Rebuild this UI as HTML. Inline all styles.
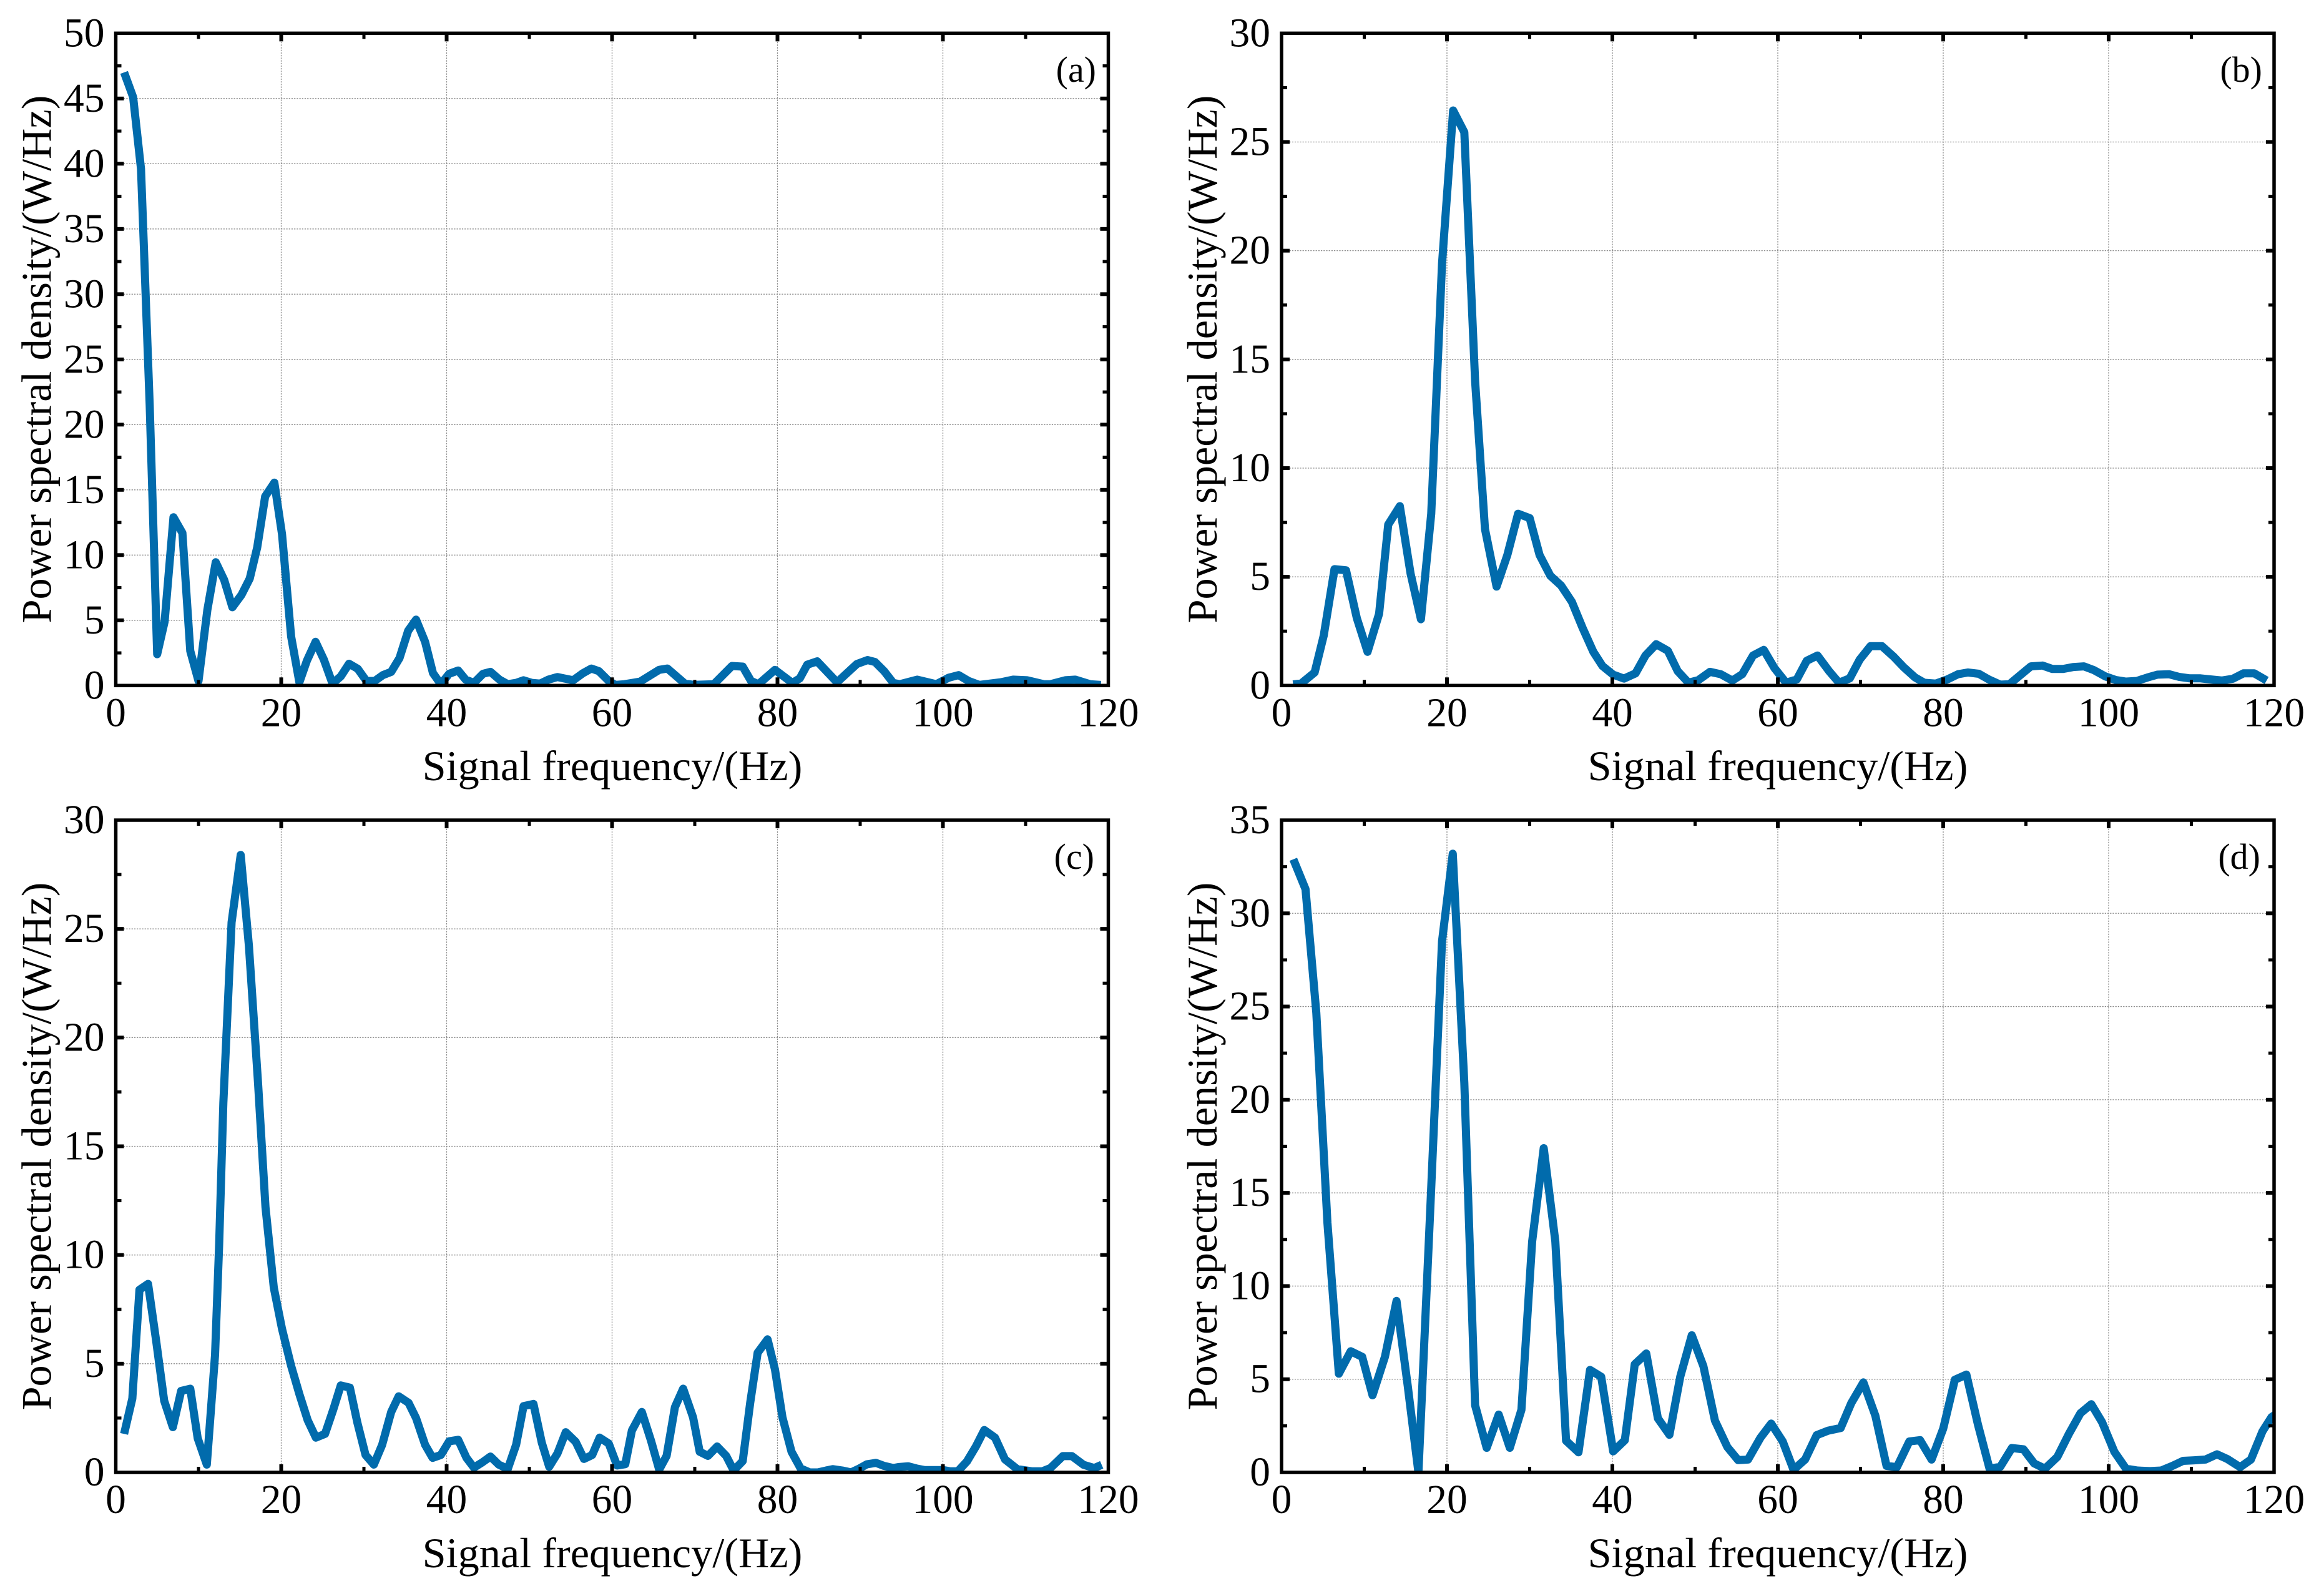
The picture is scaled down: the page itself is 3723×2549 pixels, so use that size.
<!DOCTYPE html>
<html lang="en">
<head>
<meta charset="utf-8">
<title>Power spectral density panels</title>
<style>
html,body{margin:0;padding:0;background:#fff;}
svg{display:block;}
text{font-family:"Liberation Serif",serif;fill:#000;}
.tick-label{font-size:65.5px;}
.axis-title{font-size:68.3px;}
.panel-tag{font-size:58px;}
</style>
</head>
<body>
<svg id="figure" xmlns="http://www.w3.org/2000/svg" width="3723" height="2549" viewBox="0 0 3723 2549">
  <rect x="0" y="0" width="3723" height="2549" fill="#fff"/>
  <g id="panel-a">
    <text class="axis-title" x="981" y="1250" text-anchor="middle">Signal frequency/(Hz)</text>
    <text class="axis-title" transform="translate(81.5 575.5) rotate(-90)" text-anchor="middle">Power spectral density/(W/Hz)</text>
    <text class="panel-tag" x="1756" y="131" text-anchor="end">(a)</text>
  </g>
  <g id="panel-b">
    <text class="axis-title" x="2848" y="1250" text-anchor="middle">Signal frequency/(Hz)</text>
    <text class="axis-title" transform="translate(1949 575.5) rotate(-90)" text-anchor="middle">Power spectral density/(W/Hz)</text>
    <text class="panel-tag" x="3624" y="131" text-anchor="end">(b)</text>
  </g>
  <g id="panel-c">
    <text class="axis-title" x="981" y="2511" text-anchor="middle">Signal frequency/(Hz)</text>
    <text class="axis-title" transform="translate(81.5 1836.5) rotate(-90)" text-anchor="middle">Power spectral density/(W/Hz)</text>
    <text class="panel-tag" x="1753" y="1392" text-anchor="end">(c)</text>
  </g>
  <g id="panel-d">
    <text class="axis-title" x="2848" y="2511" text-anchor="middle">Signal frequency/(Hz)</text>
    <text class="axis-title" transform="translate(1949 1836.5) rotate(-90)" text-anchor="middle">Power spectral density/(W/Hz)</text>
    <text class="panel-tag" x="3621" y="1392" text-anchor="end">(d)</text>
  </g>
</svg>
<script>
var xTickValues = [0, 20, 40, 60, 80, 100, 120];
var xMinorValues = [10, 30, 50, 70, 90, 110];
var yTicksA = [0, 5, 10, 15, 20, 25, 30, 35, 40, 45, 50];
var yTicksB = [0, 5, 10, 15, 20, 25, 30];
var yTicksC = [0, 5, 10, 15, 20, 25, 30];
var yTicksD = [0, 5, 10, 15, 20, 25, 30, 35];

var freqA = [1, 2.1, 3.05, 4.1, 5, 5.9, 6.97, 8.05, 9, 10, 11.07, 12.08, 13.1, 14.1, 15.2, 16.2, 17.1, 18.06, 19.17, 20.1, 21.2, 22.2, 23.1, 24.15, 25.15, 26.2, 27.2, 28.2, 29.25, 30.3, 31.3, 32.3, 33.3, 34.3, 35.35, 36.3, 37.4, 38.35, 39.3, 40.3, 41.4, 42.3, 43.3, 44.4, 45.3, 46.4, 47.4, 48.4, 49.3, 50.3, 51.3, 52.3, 53.4, 55.3, 56.5, 57.5, 58.4, 59.6, 60.4, 61.5, 63.4, 65.7, 66.7, 68.8, 69.9, 72.3, 74.5, 75.8, 76.8, 77.7, 79.7, 81.8, 82.7, 83.6, 84.8, 87.2, 89.6, 90.9, 91.8, 92.9, 94, 94.8, 96.9, 99.2, 100.7, 101.9, 103.1, 104.4, 107, 108.5, 110.2, 112.2, 113, 114.8, 116, 117.8, 119.1];
var powerA = [47, 45.1, 39.6, 21.5, 2.4, 4.9, 12.9, 11.7, 2.65, 0.35, 5.8, 9.45, 8.1, 6, 6.95, 8.2, 10.6, 14.5, 15.55, 11.6, 3.75, 0.25, 1.9, 3.35, 2, 0.15, 0.7, 1.67, 1.28, 0.35, 0.35, 0.8, 1.05, 2.1, 4.2, 5.05, 3.35, 0.95, 0.1, 0.9, 1.15, 0.45, 0.2, 0.9, 1.05, 0.45, 0.1, 0.2, 0.4, 0.2, 0.15, 0.45, 0.65, 0.4, 0.95, 1.3, 1.1, 0.35, 0.05, 0.1, 0.3, 1.2, 1.3, 0.15, 0.05, 0.1, 1.5, 1.45, 0.35, 0.1, 1.2, 0.2, 0.55, 1.6, 1.85, 0.25, 1.65, 1.95, 1.8, 1.1, 0.2, 0.1, 0.45, 0.1, 0.6, 0.8, 0.35, 0.05, 0.25, 0.45, 0.4, 0.1, 0.1, 0.4, 0.45, 0.1, 0.05];

var freqB = [1.4, 2.4, 4, 5.1, 6.4, 7.8, 9.1, 10.4, 11.8, 12.9, 14.3, 15.6, 16.85, 18.1, 19.4, 20.75, 22.1, 23.4, 24.6, 26, 27.3, 28.6, 30, 31.2, 32.5, 33.8, 35.1, 36.4, 37.7, 38.8, 40.1, 41.4, 42.8, 44, 45.3, 46.7, 47.9, 49.2, 50.4, 51.8, 53.1, 54.5, 55.7, 57, 58.3, 59.6, 61, 62.3, 63.5, 64.8, 66.2, 67.4, 68.7, 69.9, 71.2, 72.6, 74, 75.2, 76.6, 77.7, 79.1, 80.5, 81.8, 83, 84.3, 85.5, 86.9, 88, 89.3, 90.6, 92, 93.2, 94.5, 95.7, 97, 98.2, 99.6, 100.9, 102.1, 103.4, 104.7, 105.9, 107.3, 108.5, 109.8, 111.1, 112.3, 113.7, 115, 116.3, 117.6, 119.1];
var powerB = [0.05, 0.1, 0.6, 2.3, 5.35, 5.3, 3.1, 1.55, 3.3, 7.4, 8.25, 5.15, 3.05, 7.9, 19.4, 26.45, 25.45, 14, 7.2, 4.55, 6, 7.9, 7.7, 6, 5.05, 4.6, 3.85, 2.65, 1.55, 0.9, 0.5, 0.32, 0.56, 1.38, 1.9, 1.6, 0.66, 0.13, 0.25, 0.63, 0.52, 0.23, 0.52, 1.38, 1.64, 0.8, 0.13, 0.28, 1.14, 1.38, 0.66, 0.13, 0.33, 1.19, 1.81, 1.81, 1.33, 0.85, 0.37, 0.13, 0.09, 0.28, 0.52, 0.6, 0.54, 0.28, 0.04, 0.06, 0.47, 0.88, 0.92, 0.76, 0.76, 0.85, 0.88, 0.71, 0.42, 0.25, 0.18, 0.21, 0.37, 0.5, 0.52, 0.4, 0.33, 0.33, 0.28, 0.23, 0.31, 0.56, 0.56, 0.23];

var freqC = [1, 2, 2.86, 3.9, 4.9, 5.85, 6.9, 7.9, 9, 9.9, 11, 12, 12.5, 13, 14, 15.1, 16.1, 17.2, 18.1, 19.1, 20.1, 21.2, 22.2, 23.2, 24.2, 25.3, 26.3, 27.2, 28.3, 29.2, 30.2, 31.2, 32.2, 33.3, 34.2, 35.4, 36.3, 37.4, 38.3, 39.3, 40.3, 41.4, 42.4, 43.3, 44.3, 45.3, 46.3, 47.4, 48.4, 49.3, 50.5, 51.5, 52.4, 53.4, 54.4, 55.6, 56.6, 57.6, 58.5, 59.6, 60.6, 61.6, 62.4, 63.6, 64.7, 65.7, 66.6, 67.6, 68.6, 69.8, 70.6, 71.6, 72.7, 73.8, 74.7, 75.8, 76.7, 77.6, 78.8, 79.7, 80.6, 81.7, 82.8, 83.9, 84.9, 85.9, 86.7, 87.8, 88.9, 89.9, 90.8, 91.9, 92.9, 94, 94.7, 95.8, 96.8, 97.8, 98.9, 100, 100.9, 101.8, 102.9, 104, 105, 106.3, 107.5, 109, 110.8, 112, 113, 114.5, 115.6, 117, 118.3, 119.2];
var powerC = [1.77, 3.4, 8.4, 8.67, 6, 3.3, 2.08, 3.75, 3.85, 1.57, 0.36, 5.4, 10.5, 17, 25.3, 28.4, 24.2, 17.9, 12.2, 8.5, 6.6, 4.9, 3.6, 2.4, 1.6, 1.77, 2.9, 4, 3.9, 2.3, 0.8, 0.36, 1.27, 2.78, 3.5, 3.2, 2.5, 1.27, 0.67, 0.8, 1.43, 1.5, 0.67, 0.22, 0.46, 0.73, 0.36, 0.16, 1.27, 3.05, 3.15, 1.37, 0.26, 0.87, 1.85, 1.41, 0.62, 0.8, 1.6, 1.33, 0.32, 0.38, 1.93, 2.78, 1.47, 0.13, 0.76, 3, 3.85, 2.53, 0.95, 0.76, 1.19, 0.76, 0.09, 0.52, 3.2, 5.5, 6.12, 4.73, 2.53, 0.95, 0.18, 0, 0, 0.09, 0.15, 0.09, 0, 0.18, 0.37, 0.44, 0.3, 0.2, 0.25, 0.28, 0.18, 0.11, 0.11, 0.11, 0.05, 0.05, 0.5, 1.2, 1.95, 1.6, 0.6, 0.15, 0.05, 0.05, 0.2, 0.75, 0.75, 0.35, 0.2, 0.35];

var freqD = [1.43, 2.9, 4.2, 5.55, 6.93, 8.36, 9.75, 11, 12.5, 13.9, 15.25, 16.55, 18, 19.4, 20.7, 22.1, 23.4, 24.8, 26.26, 27.6, 29, 30.3, 31.7, 33.1, 34.4, 35.9, 37.3, 38.65, 40.1, 41.5, 42.7, 44.1, 45.5, 46.9, 48.2, 49.6, 51, 52.4, 53.9, 55.2, 56.4, 57.9, 59.2, 60.6, 61.9, 63.3, 64.7, 66.1, 67.6, 68.9, 70.35, 71.8, 73.15, 74.4, 75.9, 77.2, 78.6, 80, 81.4, 82.8, 84.2, 85.6, 86.9, 88.3, 89.7, 91, 92.3, 93.8, 95.2, 96.6, 97.9, 99.2, 100.7, 102.1, 103.5, 105, 106.35, 107.7, 109, 110.35, 111.7, 113.1, 114.35, 115.9, 117.2, 118.6, 119.7, 120.5];
var powerD = [32.9, 31.3, 24.66, 13.4, 5.3, 6.5, 6.2, 4.14, 6.2, 9.2, 4.66, 0, 14.3, 28.5, 33.2, 20.9, 3.6, 1.32, 3.1, 1.32, 3.36, 12.4, 17.4, 12.4, 1.7, 1.08, 5.5, 5.13, 1.13, 1.72, 5.8, 6.38, 2.9, 2.02, 5.13, 7.36, 5.7, 2.78, 1.36, 0.66, 0.69, 1.86, 2.62, 1.66, 0.14, 0.69, 2, 2.24, 2.38, 3.73, 4.83, 3.04, 0.35, 0.28, 1.66, 1.73, 0.69, 2.35, 4.97, 5.25, 2.56, 0.2, 0.3, 1.31, 1.24, 0.48, 0.2, 0.83, 2.07, 3.18, 3.66, 2.7, 1.1, 0.2, 0.1, 0.07, 0.1, 0.35, 0.62, 0.65, 0.69, 0.97, 0.72, 0.28, 0.69, 2.2, 2.97, 3.2];

var SVG_NS = 'http://www.w3.org/2000/svg';
var LINE_COLOR = '#016BAC';
var GRID_COLOR = '#8a8a8a';

function shape(tag, parent, props) {
  var el = document.createElementNS(SVG_NS, tag);
  Object.keys(props).forEach(function (k) { el.setAttribute(k, props[k]); });
  parent.appendChild(el);
  return el;
}

function drawPanel(id, key, left, top, xs, ys, yTicks) {
  var W = 1590, H = 1045, xMax = 120, yMax = yTicks[yTicks.length - 1];
  var right = left + W, bottom = top + H;
  var xScale = function (v) { return left + v / xMax * W; };
  var yScale = function (v) { return bottom - v / yMax * H; };
  var host = document.getElementById(id);
  var gEl, el;

  var clip = shape('clipPath', host, { id: 'clip-' + key });
  shape('rect', clip, { x: left, y: top, width: W, height: H });

  gEl = shape('g', host, { stroke: GRID_COLOR, 'stroke-width': 1.3, 'stroke-dasharray': '2.2 2', fill: 'none' });
  
  
  xTickValues.slice(1, -1).forEach(function (v) {
    el = shape('line', gEl, { x1: xScale(v), x2: xScale(v), y1: bottom, y2: top });
    
    
  });
  yTicks.slice(1, -1).forEach(function (v) {
    el = shape('line', gEl, { x1: left, x2: right, y1: yScale(v), y2: yScale(v) });
    
    
  });

  var points = xs.map(function (f, i) { return xScale(f).toFixed(1) + ',' + yScale(ys[i]).toFixed(1); }).join(' ');
  el = shape('polyline', host, { points: points, fill: 'none', stroke: LINE_COLOR, 'stroke-width': 13, 'stroke-linejoin': 'round', 'stroke-linecap': 'butt', 'clip-path': 'url(#clip-' + key + ')' });
  
  

  gEl = shape('g', host, { fill: '#000' });
  
  
  function xMark(v, len, w) {
    var a = shape('rect', gEl, { x: xScale(v) - w / 2, y: bottom - len, width: w, height: len });
    
    
    var b = shape('rect', gEl, { x: xScale(v) - w / 2, y: top, width: w, height: len });
    
    
  }
  function yMark(v, len, w) {
    var a = shape('rect', gEl, { x: left, y: yScale(v) - w / 2, width: len, height: w });
    
    
    var b = shape('rect', gEl, { x: right - len, y: yScale(v) - w / 2, width: len, height: w });
    
    
  }
  xTickValues.slice(1, -1).forEach(function (v) { xMark(v, 13, 6); });
  xMinorValues.forEach(function (v) { xMark(v, 9, 5); });
  yTicks.slice(1, -1).forEach(function (v) { yMark(v, 13, 6); });
  yTicks.slice(0, -1).forEach(function (v, i) { yMark((v + yTicks[i + 1]) / 2, 9, 5); });

  el = shape('rect', host, { x: left, y: top, width: W, height: H, fill: 'none', stroke: '#000', 'stroke-width': 5.5 });
  
  

  xTickValues.forEach(function (v) {
    var t = shape('text', host, { x: xScale(v), y: bottom + 65, 'text-anchor': 'middle', 'class': 'tick-label' });
    t.textContent = String(v);
    
    
  });
  yTicks.forEach(function (v) {
    var t = shape('text', host, { x: left - 18, y: yScale(v) + 21, 'text-anchor': 'end', 'class': 'tick-label' });
    t.textContent = String(v);
    
    
  });
}

drawPanel('panel-a', 'a', 185.5, 53.3, freqA, powerA, yTicksA);
drawPanel('panel-b', 'b', 2053, 53.3, freqB, powerB, yTicksB);
drawPanel('panel-c', 'c', 185.5, 1314, freqC, powerC, yTicksC);
drawPanel('panel-d', 'd', 2053, 1314, freqD, powerD, yTicksD);
</script>
</body>
</html>
